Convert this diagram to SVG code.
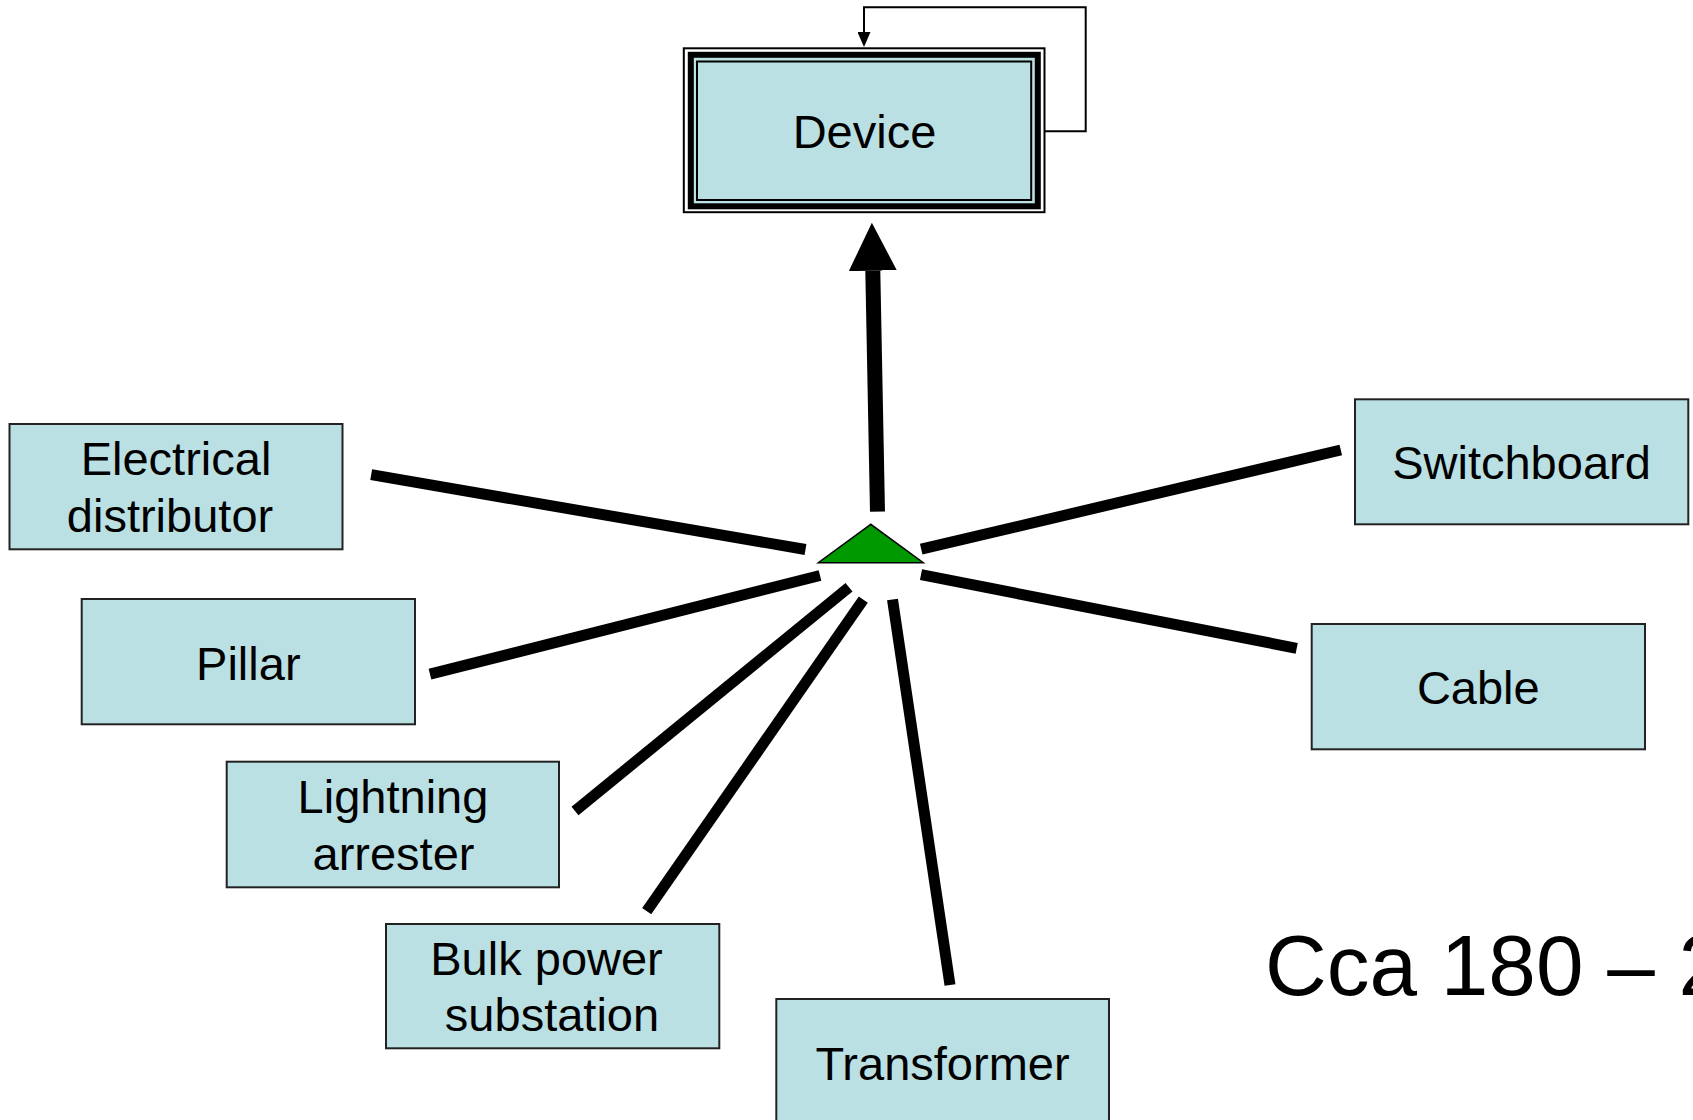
<svg xmlns="http://www.w3.org/2000/svg" width="1693" height="1120" viewBox="0 0 1693 1120">
<defs>
<style>
.box{fill:#BBE0E3;stroke:#222;stroke-width:2}
.lbl{font-family:"Liberation Sans",Arial,sans-serif;font-size:47px;fill:#000;text-anchor:middle}
.spoke{stroke:#000;stroke-width:11;stroke-linecap:butt;fill:none}
</style>
<marker id="bigHead" markerUnits="userSpaceOnUse" markerWidth="48" markerHeight="48" refX="0" refY="24" orient="auto" viewBox="0 0 48 48">
<path d="M0,0 L48,24 L0,48 z" fill="#000"/>
</marker>
<marker id="smallHead" markerUnits="userSpaceOnUse" markerWidth="15" markerHeight="13" refX="0" refY="6.5" orient="auto" viewBox="0 0 15 13">
<path d="M0,0 L15,6.5 L0,13 z" fill="#000"/>
</marker>
</defs>
<rect width="1693" height="1120" fill="#fff"/>

<g id="connectors">
<line class="spoke" x1="371.2" y1="474.7" x2="805.5" y2="549.5"/>
<line class="spoke" x1="430" y1="674.2" x2="820" y2="575.5"/>
<line class="spoke" x1="575" y1="811" x2="849" y2="587.2"/>
<line class="spoke" x1="646.7" y1="911.2" x2="863.3" y2="599.7"/>
<line class="spoke" x1="950" y1="985" x2="892.5" y2="599.5"/>
<line class="spoke" x1="1296.7" y1="648.3" x2="921" y2="574.7"/>
<line class="spoke" x1="1340.8" y1="450" x2="921.2" y2="549.2"/>
<line x1="877.5" y1="511.7" x2="872.8" y2="270.7" stroke="#000" stroke-width="15" marker-end="url(#bigHead)"/>
<polyline points="1045,131.3 1085.7,131.3 1085.7,7.3 864,7.3 864,32" fill="none" stroke="#000" stroke-width="2" marker-end="url(#smallHead)"/>
</g>

<g id="hub">
<polygon points="870.7,524.3 818.3,562.7 923.3,562.7" fill="#009900" stroke="#000" stroke-width="1.5"/>
</g>

<g id="device">
<rect x="683.8" y="48.3" width="360.7" height="163.9" fill="#fff" stroke="#000" stroke-width="2"/>
<rect x="690.8" y="54.8" width="347" height="151.5" fill="#BBE0E3" stroke="#000" stroke-width="6"/>
<rect x="697" y="61.5" width="334.2" height="138.5" fill="none" stroke="#000" stroke-width="2"/>
<text class="lbl" x="864.5" y="148">Device</text>
</g>

<g id="electrical-distributor">
<rect class="box" x="9.5" y="424" width="333" height="125.3"/>
<text class="lbl" x="176" y="475.2">Electrical</text>
<text class="lbl" x="170" y="531.7">distributor</text>
</g>

<g id="pillar">
<rect class="box" x="81.7" y="599" width="333.3" height="125.3"/>
<text class="lbl" x="248.3" y="679.5">Pillar</text>
</g>

<g id="lightning-arrester">
<rect class="box" x="226.7" y="761.7" width="332.3" height="125.6"/>
<text class="lbl" x="393" y="813">Lightning</text>
<text class="lbl" x="393.5" y="869.5">arrester</text>
</g>

<g id="bulk-power-substation">
<rect class="box" x="386" y="924" width="333.3" height="124.3"/>
<text class="lbl" x="546.5" y="974.7">Bulk power</text>
<text class="lbl" x="552" y="1031.2">substation</text>
</g>

<g id="transformer">
<rect class="box" x="776.3" y="999" width="332.7" height="125"/>
<text class="lbl" x="942.5" y="1079.5">Transformer</text>
</g>

<g id="cable">
<rect class="box" x="1311.7" y="624" width="333.3" height="125.3"/>
<text class="lbl" x="1478.3" y="704">Cable</text>
</g>

<g id="switchboard">
<rect class="box" x="1355" y="399.3" width="333.3" height="125"/>
<text class="lbl" x="1521.5" y="479.3">Switchboard</text>
</g>

<text x="1265" y="995" font-family="'Liberation Sans',Arial,sans-serif" font-size="85.5" fill="#000">Cca 180 – 2</text>
</svg>
